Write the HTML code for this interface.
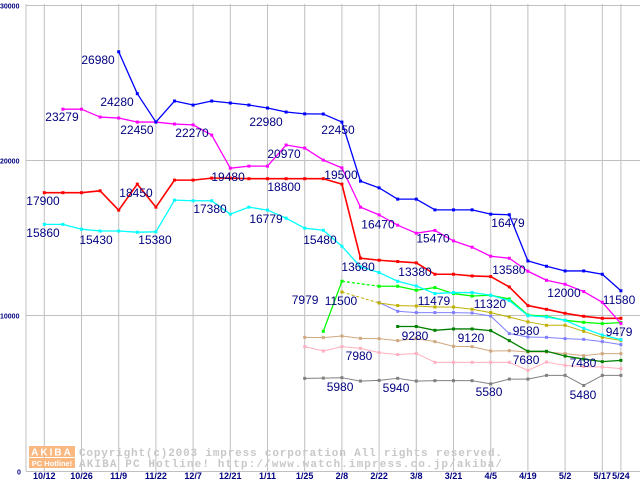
<!DOCTYPE html>
<html><head><meta charset="utf-8"><style>
html,body{margin:0;padding:0;background:#fff;}
svg{display:block;font-family:"Liberation Sans",sans-serif;}
</style></head><body>
<svg id="chart" width="640" height="480" viewBox="0 0 640 480">
<g id="grid"></g>
<g id="wm">
  <rect x="29" y="446" width="46" height="11" fill="#f8b880"/>
  <text x="52" y="455.5" font-size="10" fill="#fff" text-anchor="middle" font-weight="bold" letter-spacing="2">AKIBA</text>
  <rect x="29" y="458" width="46" height="10" fill="#f8b880"/>
  <text x="52" y="466" font-size="7.5" fill="#fff" text-anchor="middle" font-weight="bold">PC Hotline!</text>
  <text x="79" y="456" font-family="Liberation Mono,monospace" font-size="11" fill="#c8c8c8" font-weight="bold" textLength="423" lengthAdjust="spacing">Copyright(c)2003 impress corporation All rights reserved.</text>
  <text x="79" y="467" font-family="Liberation Mono,monospace" font-size="11" fill="#c8c8c8" font-weight="bold" textLength="423" lengthAdjust="spacing">AKIBA PC Hotline!  http://www.watch.impress.co.jp/akiba/</text>
</g>
<g id="series"></g>
<g id="labels"></g>
</svg>
<script>
const xLabels=["10/12","10/26","11/9","11/22","12/7","12/21","1/11","1/25","2/8","2/22","3/8","3/21","4/5","4/19","5/2","5/17","5/24"];
const xLabelIdx=[0,2,4,6,8,10,12,14,16,18,20,22,24,26,28,30,31];
const yTicks=[0,10000,20000,30000];
const blue=[null,null,null,null,26980,24280,22450,23806,23548,23806,23677,23548,23355,23097,22980,22968,22450,18645,18213,17484,17484,16794,16794,16794,16516,16479,13503,13161,12858,12858,12645,11580];
const magenta=[null,23279,23279,22774,22710,22450,22450,22323,22270,21613,19480,19613,19613,20970,20774,20000,19500,16968,16470,15806,15290,15470,14794,14387,13806,13677,12839,12258,12000,11529,10839,9479];
const red=[17900,17900,17900,18020,16774,18450,16968,18710,18710,18839,18839,18800,18800,18800,18800,18800,18452,13680,13548,13465,13380,12645,12645,12535,12497,11828,10626,10387,10129,9935,9806,9806];
const cyan=[15860,15860,15548,15430,15430,15355,15380,17419,17380,17380,16516,16968,16779,16258,15613,15480,14452,13118,12755,12194,11890,11400,11465,11465,11290,10948,9980,9890,9677,9161,8729,8432];
const green=[null,null,null,null,null,null,null,null,null,null,null,null,null,null,null,8968,12194,null,11871,11871,11613,11787,11400,11245,11290,11052,10020,9935,9677,9548,9465,9529];
const olive=[null,null,null,null,null,null,null,null,null,null,null,null,null,null,null,null,11500,null,10794,10626,10600,10535,10535,10387,10174,9890,9580,9355,9355,8968,8581,8387];
const lavender=[null,null,null,null,null,null,null,null,null,null,null,null,null,null,null,null,null,null,10819,10258,10174,10174,10174,10150,9955,8819,8600,8580,8495,8452,8303,8110];
const dkgreen=[null,null,null,null,null,null,null,null,null,null,null,null,null,null,null,null,null,null,null,9280,9280,9032,9120,9120,9013,8368,7680,7680,7374,7181,7013,7097];
const tan=[null,null,null,null,null,null,null,null,null,null,null,null,null,null,8581,8561,8665,8516,8495,8368,8495,8303,8000,7980,7697,7720,7632,7632,7529,7400,7529,7529];
const pink=[null,null,null,null,null,null,null,null,null,null,null,null,null,null,7979,7697,7980,7871,7594,7465,7548,6968,6968,6968,6968,6968,6452,6987,6774,6690,6665,6561];
const gray=[null,null,null,null,null,null,null,null,null,null,null,null,null,null,5935,5955,5980,5761,5806,5940,5761,5787,5787,5787,5580,5890,5890,6129,6129,5480,6129,6129];
const labelText=["26980","24280","23279","22450","22270","22980","22450","20970","19480","19500","18800","18450","17900","17380","16779","15860","15430","15380","15480","16470","15470","16479","13680","13380","13580","12000","11580","11500","11479","11320","9580","9479","9280","9120","7979","7980","7680","7480","5980","5940","5580","5480"];
const labelIdx=[2.89,3.91,0.95,4.98,7.94,11.92,15.79,12.89,9.88,15.95,12.89,4.93,-0.07,8.91,11.92,-0.07,2.78,5.95,14.82,17.94,20.9,24.93,16.87,19.93,24.98,27.94,30.9,15.95,20.95,23.96,25.9,30.9,19.93,22.94,14.02,16.92,25.9,28.96,15.9,18.91,23.91,28.96];
const labelVal=[26450,23744,22777,21940,21746,22455,21940,20393,18911,19040,18267,17880,17365,16849,16205,15303,14852,14852,14852,15850,14948,15947,13112,12790,12919,11437,10986,10921,10921,10728,8988,8924,8666,8537,10986,7378,7120,6927,5380,5316,5058,4865];
const sx=i=>44.3+18.6*i;
const sy=v=>470.5-v*0.01552;
const NS="http://www.w3.org/2000/svg";
function mk(tag,attrs,parent){const e=document.createElementNS(NS,tag);for(const k in attrs)e.setAttribute(k,attrs[k]);parent.appendChild(e);return e;}
const grid=document.getElementById('grid');
for(let k=0;k<xLabelIdx.length;k++){
  const l=mk('line',{x1:sx(xLabelIdx[k]),x2:sx(xLabelIdx[k]),y1:4,y2:471,stroke:'#c0c0c0','stroke-width':1},grid);
  
  
  const t=mk('text',{x:sx(xLabelIdx[k]),y:479,'font-size':9,fill:'#000080','text-anchor':'middle','font-weight':'bold'},grid);
  t.textContent=xLabels[k];
  
  
}
const axl=mk('line',{x1:26,x2:26,y1:4,y2:471,stroke:'#c0c0c0'},grid);


for(const v of yTicks){
  const y=Math.round(sy(v))+0.5;
  const l=mk('line',{x1:26,x2:640,y1:y,y2:y,stroke:'#c0c0c0'},grid);
  
  
  const t=mk('text',{x:v?0:17,y:y+3,'font-size':7,fill:'#000080','font-weight':'bold'},grid);
  t.textContent=String(v);
  
  
}
const sg=document.getElementById('series');
function drawSeries(arr,color,name,w){
  const g=mk('g',{},sg);
  
  
  let prev=-1;
  for(let i=0;i<arr.length;i++){
    if(arr[i]==null)continue;
    if(prev>=0){
      const l=mk('line',{x1:sx(prev),y1:sy(arr[prev]),x2:sx(i),y2:sy(arr[i]),stroke:color,'stroke-width':w},g);
      if(i-prev>1)l.setAttribute('stroke-dasharray','3,2');
      
      
    }
    prev=i;
  }
  for(let i=0;i<arr.length;i++){
    if(arr[i]==null)continue;
    const r=mk('rect',{x:sx(i)-1.5,y:sy(arr[i])-1.5,width:3,height:3,fill:color},g);
    
    
  }
}
drawSeries(gray,'#808080','series-gray',1);
drawSeries(pink,'#ffb0c0','series-pink',1);
drawSeries(tan,'#d0a880','series-tan',1);
drawSeries(dkgreen,'#008000','series-dark-green',1.3);
drawSeries(lavender,'#8080ff','series-lavender',1);
drawSeries(olive,'#c0b000','series-olive',1);
drawSeries(green,'#00ff00','series-green',1.3);
drawSeries(cyan,'#00ffff','series-cyan',1.3);
drawSeries(red,'#ff0000','series-red',1.6);
drawSeries(magenta,'#ff00ff','series-magenta',1.3);
drawSeries(blue,'#0000ff','series-blue',1.3);
const lg=document.getElementById('labels');
for(let k=0;k<labelText.length;k++){
  const t=mk('text',{x:sx(labelIdx[k]),y:sy(labelVal[k])+4,'font-size':12,fill:'#000080','text-anchor':'middle'},lg);
  t.textContent=labelText[k];
  
  
}
</script>
</body></html>
